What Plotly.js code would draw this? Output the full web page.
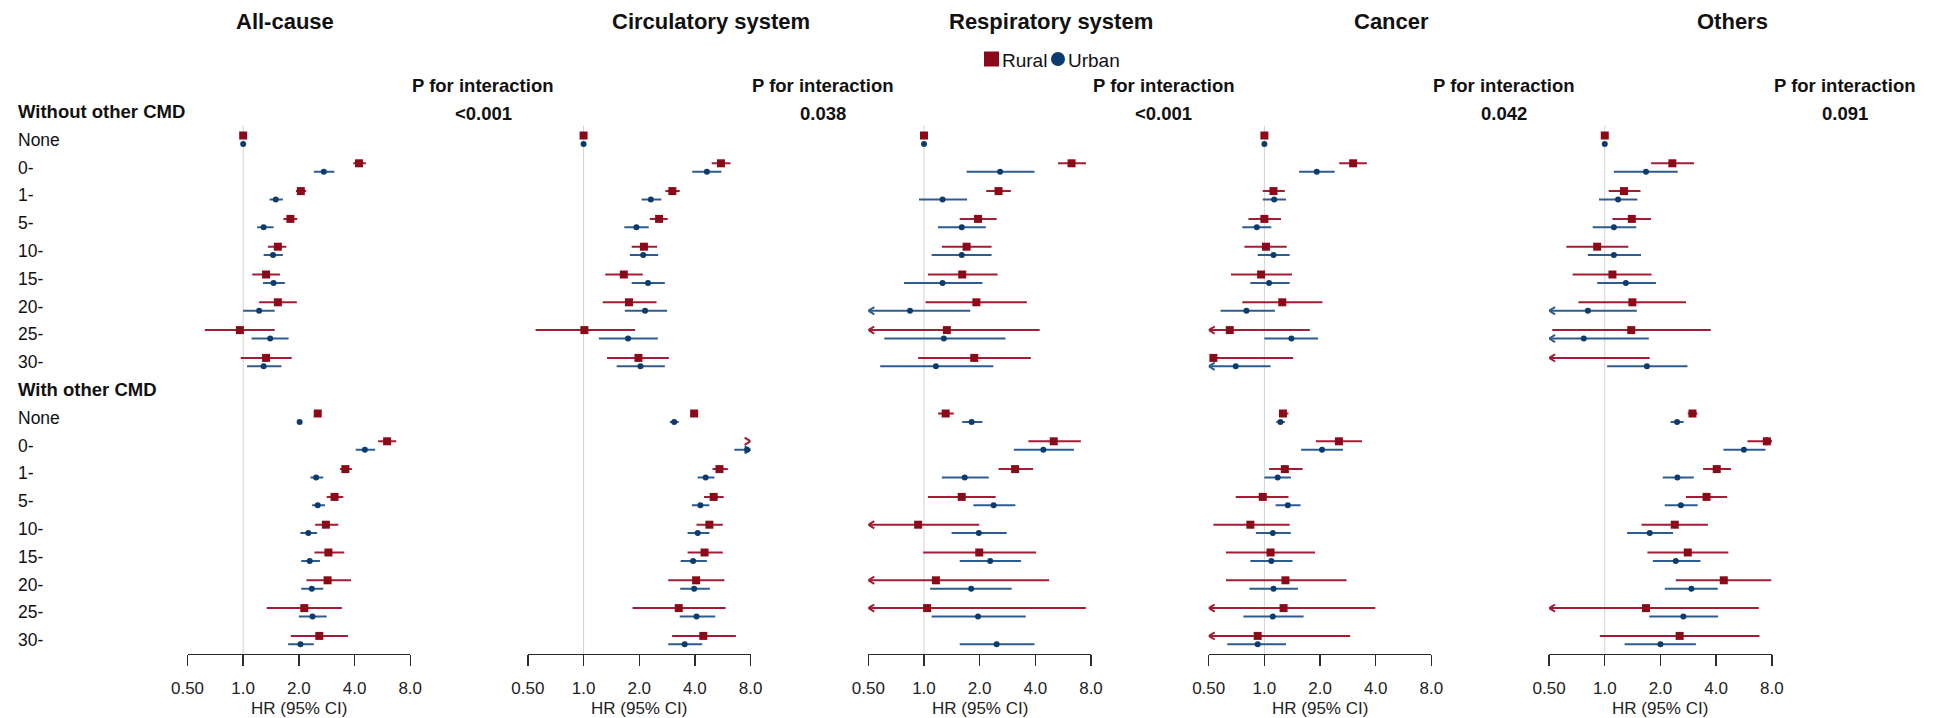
<!DOCTYPE html>
<html>
<head>
<meta charset="utf-8">
<script src="https://cdn.plot.ly/plotly-3.0.1.min.js"></script>
<style>
  html, body { margin: 0; padding: 0; background: #ffffff; }
  #chart { width: 1937px; height: 718px; }
</style>
</head>
<body>
<div id="chart"></div>
<script>
// ---- Data -----------------------------------------------------------------
const causes = ['All-cause', 'Circulatory system', 'Respiratory system', 'Cancer', 'Others'];
const pInteraction = ['<0.001', '0.038', '<0.001', '0.042', '0.091'];
const sections = ['Without other CMD', 'With other CMD'];
const periods = ['None', '0-', '1-', '5-', '10-', '15-', '20-', '25-', '30-'];
const groups = ['Rural', 'Urban'];
const tickValues = [0.5, 1, 2, 4, 8];
const tickLabels = ['0.50', '1.0', '2.0', '4.0', '8.0'];
const axisTitle = 'HR (95% CI)';

// Each array: 9 rows without other CMD, then 9 rows with other CMD (periods order).
// All-cause
const allRuralHR = [1, 4.23, 2.05, 1.80, 1.54, 1.33, 1.54, 0.96, 1.33,   2.53, 6.00, 3.57, 3.12, 2.80, 2.89, 2.86, 2.14, 2.58];
const allRuralLo = [1, 3.94, 1.93, 1.65, 1.36, 1.12, 1.22, 0.62, 0.97,   2.45, 5.37, 3.34, 2.83, 2.45, 2.43, 2.20, 1.34, 1.81];
const allRuralHi = [1, 4.61, 2.19, 1.96, 1.71, 1.58, 1.95, 1.48, 1.83,   2.62, 6.72, 3.87, 3.48, 3.27, 3.52, 3.83, 3.42, 3.69];
const allUrbanHR = [1, 2.73, 1.50, 1.29, 1.45, 1.46, 1.22, 1.40, 1.29,   2.02, 4.55, 2.48, 2.53, 2.25, 2.29, 2.35, 2.37, 2.04];
const allUrbanLo = [1, 2.41, 1.39, 1.19, 1.29, 1.28, 1.00, 1.11, 1.05,   1.97, 4.06, 2.31, 2.36, 2.04, 2.06, 2.06, 2.00, 1.75];
const allUrbanHi = [1, 3.11, 1.64, 1.46, 1.64, 1.68, 1.48, 1.76, 1.61,   2.08, 5.17, 2.71, 2.77, 2.51, 2.60, 2.71, 2.83, 2.41];
// Circulatory system
const circRuralHR = [1, 5.53, 3.02, 2.56, 2.12, 1.65, 1.76, 1.01, 1.98,   3.96, 9.20, 5.43, 5.05, 4.79, 4.51, 4.06, 3.27, 4.44];
const circRuralLo = [1, 4.93, 2.77, 2.28, 1.82, 1.31, 1.27, 0.55, 1.34,   3.85, 8.40, 4.98, 4.48, 4.08, 3.65, 2.87, 1.84, 3.01];
const circRuralHi = [1, 6.23, 3.31, 2.85, 2.50, 2.09, 2.48, 1.90, 2.89,   4.08, 10.1, 6.02, 5.72, 5.66, 5.66, 5.77, 5.86, 6.66];
const circUrbanHR = [1, 4.64, 2.31, 1.93, 2.10, 2.23, 2.15, 1.74, 2.03,   3.09, 7.65, 4.57, 4.28, 4.14, 3.91, 3.96, 4.08, 3.52];
const circUrbanLo = [1, 3.87, 2.06, 1.66, 1.78, 1.82, 1.67, 1.21, 1.51,   2.93, 6.53, 4.14, 3.85, 3.65, 3.35, 3.33, 3.31, 2.87];
const circUrbanHi = [1, 5.56, 2.63, 2.25, 2.53, 2.75, 2.83, 2.52, 2.75,   3.27, 9.10, 5.10, 4.79, 4.79, 4.64, 4.82, 5.15, 4.38];
// Respiratory system
const respRuralHR = [1, 6.28, 2.53, 1.96, 1.70, 1.61, 1.92, 1.33, 1.87,   1.31, 5.03, 3.11, 1.60, 0.93, 1.99, 1.16, 1.04, null];
const respRuralLo = [1, 5.31, 2.17, 1.56, 1.25, 1.05, 1.02, 0.30, 0.93,   1.19, 3.67, 2.53, 1.05, 0.30, 0.99, 0.30, 0.30, null];
const respRuralHi = [1, 7.52, 2.95, 2.47, 2.32, 2.50, 3.60, 4.22, 3.78,   1.45, 7.05, 3.89, 2.44, 1.99, 4.04, 4.75, 7.50, null];
const respUrbanHR = [1, 2.58, 1.26, 1.60, 1.60, 1.26, 0.84, 1.28, 1.16,   1.81, 4.42, 1.66, 2.38, 1.98, 2.28, 1.80, 1.96, 2.47];
const respUrbanLo = [1, 1.70, 0.94, 1.19, 1.10, 0.78, 0.35, 0.61, 0.58,   1.61, 3.06, 1.25, 1.85, 1.41, 1.56, 1.08, 1.10, 1.56];
const respUrbanHi = [1, 3.96, 1.71, 2.16, 2.32, 2.07, 1.78, 2.76, 2.37,   2.07, 6.47, 2.24, 3.12, 2.80, 3.35, 2.98, 3.55, 3.96];
// Cancer
const cancRuralHR = [1, 3.02, 1.12, 1.00, 1.02, 0.96, 1.25, 0.65, 0.53,   1.26, 2.53, 1.29, 0.98, 0.84, 1.08, 1.30, 1.27, 0.92];
const cancRuralLo = [1, 2.54, 0.98, 0.82, 0.78, 0.66, 0.76, 0.35, 0.51,   1.20, 1.90, 1.06, 0.70, 0.53, 0.62, 0.62, 0.35, 0.35];
const cancRuralHi = [1, 3.58, 1.29, 1.23, 1.32, 1.41, 2.06, 1.76, 1.43,   1.35, 3.37, 1.61, 1.35, 1.37, 1.88, 2.78, 3.98, 2.91];
const cancUrbanHR = [1, 1.92, 1.13, 0.91, 1.12, 1.06, 0.80, 1.40, 0.70,   1.22, 2.05, 1.18, 1.34, 1.11, 1.09, 1.12, 1.11, 0.92];
const cancUrbanLo = [1, 1.54, 0.98, 0.76, 0.92, 0.84, 0.58, 1.00, 0.40,   1.16, 1.58, 1.00, 1.15, 0.90, 0.84, 0.83, 0.77, 0.63];
const cancUrbanHi = [1, 2.40, 1.31, 1.09, 1.37, 1.37, 1.14, 1.95, 1.08,   1.29, 2.66, 1.39, 1.57, 1.39, 1.42, 1.52, 1.63, 1.31];
// Others
const othRuralHR = [1, 2.32, 1.27, 1.40, 0.91, 1.10, 1.41, 1.39, 0.45,   2.98, 7.52, 4.03, 3.55, 2.39, 2.81, 4.40, 1.67, 2.54];
const othRuralLo = [1, 1.78, 1.05, 1.10, 0.62, 0.67, 0.72, 0.52, 0.10,   2.81, 5.91, 3.40, 2.75, 1.58, 1.70, 2.42, 0.35, 0.94];
const othRuralHi = [1, 3.04, 1.56, 1.78, 1.34, 1.79, 2.75, 3.74, 1.75,   3.17, 8.50, 4.82, 4.59, 3.61, 4.66, 7.95, 6.80, 6.86];
const othUrbanHR = [1, 1.67, 1.18, 1.12, 1.12, 1.30, 0.81, 0.77, 1.69,   2.46, 5.65, 2.47, 2.58, 1.75, 2.42, 2.94, 2.66, 2.00];
const othUrbanLo = [1, 1.12, 0.93, 0.86, 0.81, 0.91, 0.35, 0.35, 1.03,   2.27, 4.38, 2.06, 2.11, 1.32, 1.82, 2.11, 1.74, 1.28];
const othUrbanHi = [1, 2.48, 1.50, 1.48, 1.57, 1.89, 1.49, 1.73, 2.80,   2.67, 7.39, 3.03, 3.18, 2.34, 3.29, 4.08, 4.10, 3.11];

// ---- Styling / geometry ---------------------------------------------------
const W = 1937, H = 718;
const PLOT_BOTTOM = 654;               // pixel row of the HR axis line
const ROW0 = 139.7, ROW_H = 27.8;      // first row centre and row pitch (px)
const PANEL_LEFT0 = 187.5, PANEL_STEP = 340.4, PANEL_W = 222.7;
const PX_PER_DOUBLING = PANEL_W / 4;
const PAIR_OFFSET = 0.151;             // rural above, urban below the row centre (rows)
const ARM_W = 6, ARM_H = 3.6;          // arrow head size (px)
const XMIN = 0.5, XMAX = 8;
const FONT = 'Liberation Sans, Arial, Helvetica, sans-serif';
const INK = '#111111';
const styles = {
  Rural: { mark: '#8b0a1a', line: '#a21c33', symbol: 'square', size: 8, dy: -PAIR_OFFSET },
  Urban: { mark: '#0c3c6e', line: '#2d5c8e', symbol: 'circle', size: 6, dy: PAIR_OFFSET }
};

const series = [
  { Rural: [allRuralHR, allRuralLo, allRuralHi], Urban: [allUrbanHR, allUrbanLo, allUrbanHi] },
  { Rural: [circRuralHR, circRuralLo, circRuralHi], Urban: [circUrbanHR, circUrbanLo, circUrbanHi] },
  { Rural: [respRuralHR, respRuralLo, respRuralHi], Urban: [respUrbanHR, respUrbanLo, respUrbanHi] },
  { Rural: [cancRuralHR, cancRuralLo, cancRuralHi], Urban: [cancUrbanHR, cancUrbanLo, cancUrbanHi] },
  { Rural: [othRuralHR, othRuralLo, othRuralHi], Urban: [othUrbanHR, othUrbanLo, othUrbanHi] }
];

const px2x = px => px / W;                       // paper x from pixel column
const px2y = py => 1 - py / PLOT_BOTTOM;         // paper y from pixel row
const rowY = py => (py - ROW0) / ROW_H;          // row units from pixel row
// row index of data entry i: sections are separated by a header row
const rowOf = i => (i < periods.length ? i : i + 1);

const traces = [];
const layout = {
  width: W, height: H,
  margin: { l: 0, r: 0, t: 0, b: H - PLOT_BOTTOM, pad: 0 },
  paper_bgcolor: '#ffffff', plot_bgcolor: 'rgba(0,0,0,0)',
  showlegend: false,
  font: { family: FONT, color: INK },
  yaxis: {
    range: [rowY(PLOT_BOTTOM), rowY(0)],
    domain: [0, 1], visible: false, fixedrange: true
  },
  annotations: [],
  shapes: []
};

causes.forEach((cause, p) => {
  const left = PANEL_LEFT0 + p * PANEL_STEP;
  const axName = p === 0 ? 'xaxis' : 'xaxis' + (p + 1);
  const xa = p === 0 ? 'x' : 'x' + (p + 1);
  const eps = 1e-7;
  layout[axName] = {
    type: 'log',
    domain: [px2x(left), px2x(left + PANEL_W)],
    range: [Math.log10(XMIN) - eps, Math.log10(XMAX) + eps],
    anchor: 'y',
    tickmode: 'array', tickvals: tickValues, ticktext: tickLabels,
    ticks: 'outside', ticklen: 11, tickwidth: 1.4, tickcolor: '#2b2b2b',
    showline: true, linecolor: '#2b2b2b', linewidth: 1.4,
    showgrid: false, zeroline: false, fixedrange: true,
    ticklabelstandoff: 7,
    tickfont: { family: FONT, size: 17, color: '#222222' }
  };

  // reference line at HR = 1
  traces.push({
    type: 'scatter', mode: 'lines', xaxis: xa, yaxis: 'y', hoverinfo: 'skip',
    x: [1, 1], y: [-0.5, rowY(PLOT_BOTTOM)],
    line: { color: '#d2d2d2', width: 1 }
  });

  groups.forEach(g => {
    const [hr, lo, hi] = series[p][g];
    const st = styles[g];
    const ci = { x: [], y: [] }, arrows = { x: [], y: [] }, pts = { x: [], y: [] };
    const armF = Math.pow(2, ARM_W / PX_PER_DOUBLING);
    const armH = ARM_H / ROW_H;
    hr.forEach((v, i) => {
      if (v === null) return;
      const y = rowOf(i) + st.dy;
      const a = Math.max(lo[i], XMIN), b = Math.min(hi[i], XMAX);
      if (b > a) { ci.x.push(a, b, null); ci.y.push(y, y, null); }
      if (lo[i] < XMIN && hi[i] > XMIN) {
        arrows.x.push(XMIN * armF, XMIN, XMIN * armF, null);
        arrows.y.push(y - armH, y, y + armH, null);
      }
      if (hi[i] > XMAX) {
        arrows.x.push(XMAX / armF, XMAX, XMAX / armF, null);
        arrows.y.push(y - armH, y, y + armH, null);
      }
      if (v >= XMIN && v <= XMAX) { pts.x.push(v); pts.y.push(y); }
    });
    traces.push({
      type: 'scatter', mode: 'lines', name: g + ' CI', xaxis: xa, yaxis: 'y', hoverinfo: 'skip',
      x: ci.x, y: ci.y, line: { color: st.line, width: 2 }, connectgaps: false
    });
    traces.push({
      type: 'scatter', mode: 'lines', name: g + ' truncated', xaxis: xa, yaxis: 'y', hoverinfo: 'skip',
      x: arrows.x, y: arrows.y, line: { color: st.line, width: 2 }, connectgaps: false
    });
    traces.push({
      type: 'scatter', mode: 'markers', name: g, xaxis: xa, yaxis: 'y', cliponaxis: false,
      x: pts.x, y: pts.y,
      marker: { symbol: st.symbol, size: st.size, color: st.mark, line: { width: 0 } }
    });
  });

  // panel title
  const pRight = left + 366;
  const titleLeft = p === 0 ? 17 : left;
  layout.annotations.push({
    xref: 'paper', yref: 'paper', x: px2x((titleLeft + pRight) / 2), y: px2y(21),
    xanchor: 'center', yanchor: 'middle', showarrow: false,
    text: '<b>' + cause + '</b>', font: { family: FONT, size: 22, color: INK }
  });
  // interaction p-value
  layout.annotations.push({
    xref: 'paper', yref: 'paper', x: px2x(left + 295.5), y: px2y(85.5),
    xanchor: 'center', yanchor: 'middle', showarrow: false,
    text: '<b>P for interaction</b>', font: { family: FONT, size: 18.5, color: INK }
  });
  layout.annotations.push({
    xref: 'paper', yref: 'paper', x: px2x(left + 295.5), y: px2y(113),
    xanchor: 'center', yanchor: 'middle', showarrow: false,
    text: '<b>' + pInteraction[p].replace('<', '&lt;') + '</b>', font: { family: FONT, size: 18.5, color: INK }
  });
  // axis title
  layout.annotations.push({
    xref: 'paper', yref: 'paper', x: px2x(left + PANEL_W / 2), y: px2y(708),
    xanchor: 'center', yanchor: 'middle', showarrow: false,
    text: axisTitle, font: { family: FONT, size: 17, color: '#222222' }
  });
});

// row labels
sections.forEach((sec, s) => {
  const base = s * (periods.length + 1);
  layout.annotations.push({
    xref: 'paper', yref: 'y', x: px2x(16), y: base - 1,
    xanchor: 'left', yanchor: 'middle', showarrow: false,
    text: '<b>' + sec + '</b>', font: { family: FONT, size: 18.5, color: INK }
  });
  periods.forEach((lab, i) => {
    layout.annotations.push({
      xref: 'paper', yref: 'y', x: px2x(16), y: base + i,
      xanchor: 'left', yanchor: 'middle', showarrow: false,
      text: lab, font: { family: FONT, size: 17.5, color: INK }
    });
  });
});

// key
const keyY = 59;
layout.shapes.push({
  type: 'rect', xref: 'paper', yref: 'paper', layer: 'above',
  x0: px2x(984), x1: px2x(999), y0: px2y(keyY + 7.5), y1: px2y(keyY - 7.5),
  fillcolor: styles.Rural.mark, line: { width: 0 }
});
layout.annotations.push({
  xref: 'paper', yref: 'paper', x: px2x(1000), y: px2y(keyY + 1),
  xanchor: 'left', yanchor: 'middle', showarrow: false,
  text: groups[0], font: { family: FONT, size: 19, color: INK }
});
layout.shapes.push({
  type: 'circle', xref: 'paper', yref: 'paper', layer: 'above',
  x0: px2x(1051), x1: px2x(1065), y0: px2y(keyY + 7), y1: px2y(keyY - 7),
  fillcolor: styles.Urban.mark, line: { width: 0 }
});
layout.annotations.push({
  xref: 'paper', yref: 'paper', x: px2x(1066), y: px2y(keyY + 1),
  xanchor: 'left', yanchor: 'middle', showarrow: false,
  text: groups[1], font: { family: FONT, size: 19, color: INK }
});

Plotly.newPlot('chart', traces, layout, { staticPlot: true, displayModeBar: false });
</script>
</body>
</html>
